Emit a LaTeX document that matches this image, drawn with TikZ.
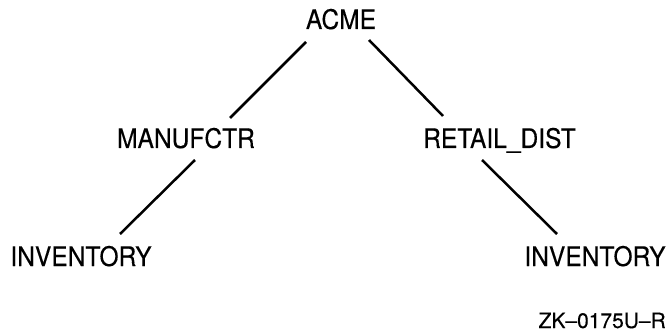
\documentclass[tikz,border=0pt]{standalone}
\usepackage{fontspec}
\setmainfont{TeX Gyre Heros}[FakeStretch=0.91,FakeBold=0.3]
\newfontfamily\zkfont{TeX Gyre Heros}[FakeBold=0.3]
\begin{document}
\begin{tikzpicture}[x=1pt,y=1pt,
  lbl/.style={inner sep=0pt,anchor=base,text depth=0pt,font=\fontsize{27}{32}\selectfont},
  edge/.style={line width=2.5pt}]
\useasboundingbox (0,0) rectangle (672,335);
\node[lbl] (acme) at (341,306) {ACME};
\node[lbl] (man) at (186,187) {MANUFCTR};
\node[lbl] (ret) at (499.5,187) {RETAIL\_DIST};
\node[lbl] (inv1) at (81,69) {INVENTORY};
\node[lbl] (inv2) at (595,69) {INVENTORY};
\node[inner sep=0pt,anchor=base east,font=\zkfont\fontsize{21}{25}\selectfont] (zk) at (666,7) {ZK–0175U–R};
\draw[edge] ([shift={(-35,-13)}]acme.base) -- ([shift={(44,30)}]man.base);
\draw[edge] ([shift={(28,-11)}]acme.base) -- ([shift={(-56.5,32)}]ret.base);
\draw[edge] ([shift={(9,-12)}]man.base) -- ([shift={(39,32)}]inv1.base);
\draw[edge] ([shift={(-17.5,-12)}]ret.base) -- ([shift={(-38,32)}]inv2.base);
\end{tikzpicture}
\end{document}
